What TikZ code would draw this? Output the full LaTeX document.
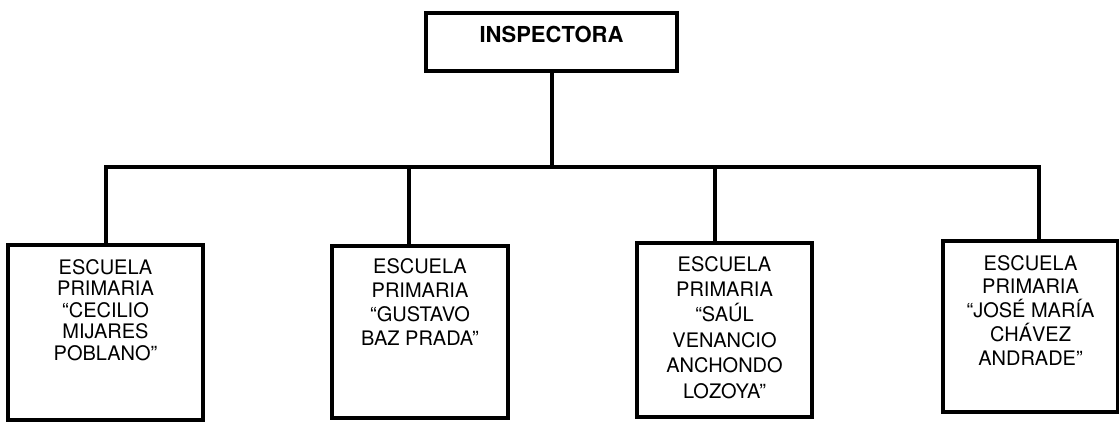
\documentclass[tikz,border=0pt]{standalone}
\usepackage{fontspec}
\setmainfont{TeX Gyre Heros}
\begin{document}
\begin{tikzpicture}[x=1pt,y=-1pt,
  box/.style={draw=black,line width=3.8pt,inner sep=0pt,outer sep=0pt,minimum width=#1},
  lbl/.style={inner sep=0pt,align=center,anchor=north,font=\fontsize{20}{#1}\selectfont},
  conn/.style={draw=black,line width=4pt,line join=miter}]
\useasboundingbox (0,0) rectangle (1119,426);

% top box
\node[box=251pt,minimum height=58pt] (top) at (551.5,42) {};
\node[inner sep=0pt,font=\fontsize{22}{24}\selectfont\bfseries] (topt) at (551.5,34) {INSPECTORA};

% bottom boxes
\node[box=195pt,minimum height=175pt] (b1) at (105.5,332.5) {};
\node[box=176pt,minimum height=172pt] (b2) at (420,332) {};
\node[box=175pt,minimum height=174pt] (b3) at (724.5,330) {};
\node[box=175pt,minimum height=171pt] (b4) at (1030.5,326.5) {};

\node[lbl=21.6pt] (b1t) at (105.5,259) {ESCUELA\\PRIMARIA\\“CECILIO\\MIJARES\\POBLANO”};
\node[lbl=24pt] (b2t) at (420,258) {ESCUELA\\PRIMARIA\\“GUSTAVO\\BAZ PRADA”};
\node[lbl=25.4pt] (b3t) at (724.5,256) {ESCUELA\\PRIMARIA\\“SAÚL\\VENANCIO\\ANCHONDO\\LOZOYA”};
\node[lbl=23.75pt] (b4t) at (1030.5,255) {ESCUELA\\PRIMARIA\\“JOSÉ MARÍA\\CHÁVEZ\\ANDRADE”};

% connectors
\coordinate (j) at (551.5,167);
\draw[conn] (top.south) -- (j);
\draw[conn] ([xshift=0.5pt]b1.north) |- (j) -| ([xshift=8.5pt]b4.north);
\draw[conn] ([xshift=-11pt]b2.north) -- ([xshift=-11pt]b2.north |- j);
\draw[conn] ([xshift=-9.5pt]b3.north) -- ([xshift=-9.5pt]b3.north |- j);
\end{tikzpicture}
\end{document}
